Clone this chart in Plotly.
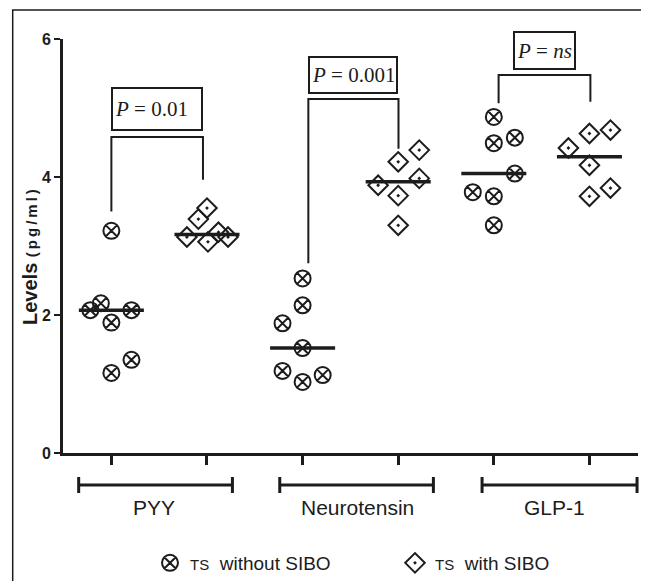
import numpy as np
import plotly.graph_objects as go

# ---------------- data ----------------
groups = ["PYY", "Neurotensin", "GLP-1"]

pyy_without = [3.22, 2.07, 2.17, 1.89, 2.07, 1.35, 1.16]
pyy_with = [3.55, 3.39, 3.13, 3.06, 3.20, 3.13]
neuro_without = [2.53, 2.14, 1.88, 1.52, 1.19, 1.03, 1.13]
neuro_with = [4.22, 4.39, 3.88, 3.98, 3.73, 3.30]
glp_without = [4.87, 4.49, 4.57, 4.05, 3.78, 3.72, 3.30]
glp_with = [4.63, 4.68, 4.42, 4.17, 3.72, 3.84]

p_labels = ["<i>P</i> = 0.01", "<i>P</i> = 0.001", "<i>P</i> = <i>ns</i>"]
y_ticks = [0, 2, 4, 6]
y_title = "<b>Levels</b> <b><span style='font-size:15px;letter-spacing:3px'>(pg/ml)</span></b>"
legend_names = ["<span style='font-size:15px'>TS</span>&nbsp;&nbsp;without SIBO",
                "<span style='font-size:15px'>TS</span>&nbsp;&nbsp;with SIBO"]

# ---------------- layout helpers (positions / styles) ----------------
# horizontal scatter offsets of the points (beeswarm-style placement)
jit_pyy_without = [0, -0.22, -0.11, 0, 0.21, 0.21, 0]
jit_pyy_with = [0, -0.09, -0.21, 0.01, 0.12, 0.22]
jit_neuro_without = [0, 0, -0.21, 0, -0.21, 0, 0.21]
jit_neuro_with = [0, 0.22, -0.21, 0.22, 0, 0]
jit_glp_without = [0, 0, 0.22, 0.22, -0.22, 0, 0]
jit_glp_with = [0, 0.22, -0.22, 0, 0, 0.22]

without_sets = [(1, pyy_without, jit_pyy_without),
                (3, neuro_without, jit_neuro_without),
                (5, glp_without, jit_glp_without)]
with_sets = [(2, pyy_with, jit_pyy_with),
             (4, neuro_with, jit_neuro_with),
             (6, glp_with, jit_glp_with)]

X_RANGE = [0.494, 6.508]
Y_RANGE = [0, 6]
OFF = 8                      # page body margin of the html page
W, H = 649 - OFF, 581 - OFF
M = dict(l=55, r=11, t=31, b=128)
plot_w = W - M["l"] - M["r"]
plot_h = H - M["t"] - M["b"]

def xpaper(x):
    return (x - X_RANGE[0]) / (X_RANGE[1] - X_RANGE[0])

def ypaper_px(py):  # page pixel row -> paper
    return (H - M["b"] - (py - OFF)) / plot_h

def xpaper_px(px):  # page pixel column -> paper
    return ((px - OFF) - M["l"]) / plot_w

INK = "#1c1c1c"
SANS = "Liberation Sans, Arial"

fig = go.Figure()

def add_series(sets, name, symbol, size):
    xs, ys = [], []
    for c, vals, jit in sets:
        xs += [c + j for j in jit]
        ys += list(vals)
    fig.add_trace(go.Scatter(
        x=xs, y=ys, mode="markers", name=name,
        marker=dict(symbol=symbol, size=size, color=INK,
                    line=dict(color=INK, width=2)),
        cliponaxis=False,
    ))

add_series(without_sets, legend_names[0], "circle-x-open", 16)
add_series(with_sets, legend_names[1], "diamond-open-dot", 15)

# median lines
for c, vals, _ in without_sets + with_sets:
    m = float(np.median(vals))
    fig.add_trace(go.Scatter(x=[c - 0.34, c + 0.34], y=[m, m], mode="lines",
                             line=dict(color=INK, width=3.5),
                             showlegend=False, hoverinfo="skip"))

# significance brackets (x left, x right, top, left end, right end)
brackets = [
    (1.0, 1.958, 4.58, 3.50, 3.96),
    (3.06, 4.003, 5.13, 2.75, 4.41),
    (5.05, 6.01, 5.48, 5.07, 5.09),
]
box_geom = [  # center y, text width, text height
    (4.985, 84, 36),
    (5.48, 82, 30),
    (5.84, 55, 31),
]
for (xl, xr, top, yl, yr), lab, (cy, bw, bh) in zip(brackets, p_labels, box_geom):
    fig.add_shape(type="path",
                  path=f"M {xl} {yl} L {xl} {top} L {xr} {top} L {xr} {yr}",
                  xref="x", yref="y", line=dict(color=INK, width=2))
    fig.add_annotation(x=(xl + xr) / 2, y=cy, xref="x", yref="y",
                       xanchor="center", yanchor="middle",
                       text=lab, showarrow=False, width=bw, height=bh,
                       align="left", valign="middle",
                       font=dict(family="Liberation Serif, Times New Roman", size=21, color=INK),
                       bordercolor=INK, borderwidth=2, borderpad=2)

# group brackets under the axis
group_spans = [(0.658, 2.266), (2.761, 4.368), (4.877, 6.498)]
label_x = [1.442, 3.574, 5.634]
yb = ypaper_px(485)
cap = 8 / plot_h
for (a, b), g, lx in zip(group_spans, groups, label_x):
    xa, xb = xpaper(a), xpaper(b)
    fig.add_shape(type="line", xref="paper", yref="paper", x0=xa, x1=xb, y0=yb, y1=yb,
                  line=dict(color=INK, width=3))
    for xx in (xa, xb):
        fig.add_shape(type="line", xref="paper", yref="paper", x0=xx, x1=xx,
                      y0=yb - cap, y1=yb + cap, line=dict(color=INK, width=3))
    fig.add_annotation(x=xpaper(lx), y=ypaper_px(508), xref="paper", yref="paper",
                       text=g, showarrow=False, xanchor="center", yanchor="middle",
                       font=dict(family=SANS, size=21, color=INK))

# y axis title
fig.add_annotation(x=xpaper_px(30), y=ypaper_px(256), xref="paper", yref="paper",
                   text=y_title, textangle=-90, showarrow=False,
                   xanchor="center", yanchor="middle",
                   font=dict(family=SANS, size=20, color=INK))

# outer frame
fig.add_shape(type="rect", xref="paper", yref="paper",
              x0=xpaper_px(12.7), x1=xpaper_px(670), y0=ypaper_px(620), y1=ypaper_px(10),
              line=dict(color=INK, width=1.5), layer="below")

fig.update_layout(
    width=W, height=H, margin=dict(M, autoexpand=False),
    paper_bgcolor="white", plot_bgcolor="white",
    showlegend=True,
    legend=dict(orientation="h", xref="container", yref="container",
                x=(150 - OFF) / W, xanchor="left",
                y=1 - (563 - OFF) / H, yanchor="middle",
                entrywidth=200, entrywidthmode="pixels",
                font=dict(family=SANS, size=19, color=INK),
                bgcolor="rgba(0,0,0,0)", borderwidth=0),
    xaxis=dict(range=X_RANGE, showgrid=False, zeroline=False, automargin=False,
               showline=True, linecolor=INK, linewidth=3,
               tickmode="array", tickvals=[1, 2, 3, 4, 5, 6], ticktext=[""] * 6,
               ticks="outside", ticklen=9, tickwidth=2.5, tickcolor=INK),
    yaxis=dict(range=Y_RANGE, showgrid=False, zeroline=False, automargin=False,
               showline=True, linecolor=INK, linewidth=3,
               tickmode="array", tickvals=y_ticks,
               ticks="outside", ticklen=6, tickwidth=2, tickcolor=INK,
               tickfont=dict(family=SANS, size=16, color=INK, weight="bold")),
)

fig.write_html("out.html")
